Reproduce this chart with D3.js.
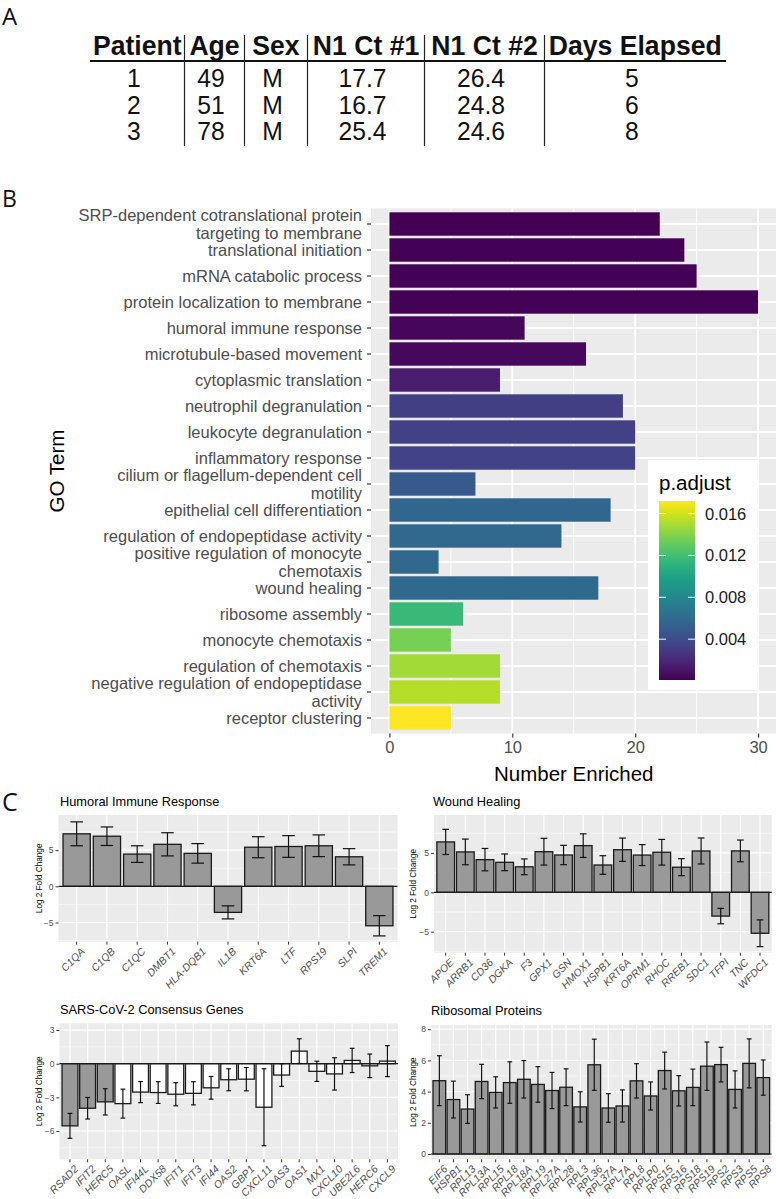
<!DOCTYPE html>
<html><head><meta charset="utf-8">
<script src="https://cdn.jsdelivr.net/npm/d3@7"></script>
<style>
body{margin:0;background:#fff;}
svg{display:block;font-family:"Liberation Sans",Arial,Helvetica,sans-serif;}
</style>
</head><body>
<svg id="chart" width="776" height="1199"></svg>
<script>
// ================= DATA =================
// Panel A – table
const tableHeaders = ["Patient","Age","Sex","N1 Ct #1","N1 Ct #2","Days Elapsed"];
const patientIds = ["1","2","3"];
const ages = ["49","51","78"];
const sexes = ["M","M","M"];
const n1Ct1 = ["17.7","16.7","25.4"];
const n1Ct2 = ["26.4","24.8","24.6"];
const daysElapsed = ["5","6","8"];

// Panel B – GO enrichment
const goTerms = [
  "SRP-dependent cotranslational protein\ntargeting to membrane",
  "translational initiation",
  "mRNA catabolic process",
  "protein localization to membrane",
  "humoral immune response",
  "microtubule-based movement",
  "cytoplasmic translation",
  "neutrophil degranulation",
  "leukocyte degranulation",
  "inflammatory response",
  "cilium or flagellum-dependent cell\nmotility",
  "epithelial cell differentiation",
  "regulation of endopeptidase activity",
  "positive regulation of monocyte\nchemotaxis",
  "wound healing",
  "ribosome assembly",
  "monocyte chemotaxis",
  "regulation of chemotaxis",
  "negative regulation of endopeptidase\nactivity",
  "receptor clustering"
];
const numberEnriched = [22,24,25,30,11,16,9,19,20,20,7,18,14,4,17,6,5,9,9,5];
const pAdjust = [0.0001,0.0002,0.0002,0.0002,0.0004,0.0005,0.0015,0.0033,0.0034,0.0035,
                 0.0049,0.0057,0.0058,0.0058,0.0059,0.0116,0.0136,0.0148,0.0153,0.0172];
const xTicksB = [0,10,20,30];
const xMinorB = [5,15,25];
const legendTicks = [0.004,0.008,0.012,0.016];

// Panel C – fold changes
const humoralGenes = ["C1QA","C1QB","C1QC","DMBT1","HLA-DQB1","IL1B","KRT6A","LTF","RPS19","SLPI","TREM1"];
const humoralLFC = [7.25,6.92,4.45,5.8,4.55,-3.6,5.4,5.5,5.6,4.08,-5.45];
const humoralSE  = [1.65,1.28,1.15,1.6,1.35,0.9,1.45,1.5,1.5,1.12,1.4];

const woundGenes = ["APOE","ARRB1","CD36","DGKA","F3","GPX1","GSN","HMOX1","HSPB1","KRT6A","OPRM1","RHOC","RREB1","SDC1","TFPI","TNC","WFDC1"];
const woundLFC = [6.4,5.13,4.15,3.81,3.24,5.16,4.74,5.93,3.47,5.41,4.73,5.09,3.19,5.25,-3.02,5.26,-5.2];
const woundSE  = [1.6,1.63,1.42,1.06,1.0,1.7,1.23,1.5,1.18,1.48,1.33,1.63,1.08,1.65,0.98,1.38,1.7];

const sarsGenes = ["RSAD2","IFIT2","HERC5","OASL","IFI44L","DDX58","IFIT1","IFIT3","IFI44","OAS2","GBP1","CXCL11","OAS3","OAS1","MX1","CXCL10","UBE2L6","HERC6","CXCL9"];
const sarsLFC = [-5.54,-3.97,-3.4,-3.56,-2.53,-2.57,-2.72,-2.64,-2.15,-1.43,-1.38,-3.88,-1.01,1.12,-0.68,-0.91,0.29,-0.19,0.23];
const sarsSE  = [1.11,0.96,1.17,1.29,0.94,0.97,1.03,1.03,1.01,0.98,1.04,3.43,1.01,1.1,0.9,1.44,1.08,1.05,1.38];
const sarsSignificant = [true,true,true,false,false,false,false,false,false,false,false,false,false,false,false,false,false,false,false];

const riboGenes = ["EIF6","HSPB1","RPL13","RPL13A","RPL15","RPL18","RPL18A","RPL19","RPL27A","RPL28","RPL3","RPL36","RPL37A","RPL7A","RPL8","RPLP0","RPS15","RPS16","RPS18","RPS19","RPS2","RPS3","RPS5","RPS8"];
const riboLFC = [4.7,3.49,2.88,4.65,3.95,4.58,4.79,4.46,4.07,4.28,3.02,5.72,2.95,3.08,4.69,3.72,5.35,4.05,4.27,5.63,5.73,4.14,5.81,4.9];
const riboSE  = [1.6,1.18,0.92,1.1,1.0,1.33,1.2,1.14,1.16,1.18,0.97,1.64,0.92,1.03,1.1,0.9,1.18,0.97,1.17,1.55,1.11,1.19,1.57,1.13];

// ================= DRAWING =================
const svg = d3.select("#chart");
const GRAY_BG = "#ebebeb", AXIS_TXT = "#4d4d4d", TICK = "#333333";

function panelLabel(t, x, y, size){
  svg.append("text").attr("x",x).attr("y",y).attr("font-size",size)
    .attr("font-family","'Open Sans','Noto Sans',sans-serif").attr("fill","#111").text(t);
}

// ---------- Panel A ----------
panelLabel("A", 2, 25, 24);
(function(){
  const colEdges = [90,184.5,244.5,307.5,424.5,544.5,726];
  const centers = colEdges.slice(0,-1).map((e,i)=>(e+colEdges[i+1])/2);
  const columns = [patientIds, ages, sexes, n1Ct1, n1Ct2, daysElapsed];
  const rowY = d3.scaleLinear().domain([0,1]).range([87,113.5]);
  const g = svg.append("g");
  tableHeaders.forEach((h,i)=>{
    g.append("text").attr("transform",`translate(${centers[i]},55) scale(0.95,1)`)
      .attr("text-anchor","middle").attr("font-size",28).attr("font-weight","bold")
      .attr("fill","#111").text(h);
  });
  columns.forEach((col,ci)=>{
    col.forEach((v,ri)=>{
      g.append("text").attr("transform",`translate(${centers[ci]-3.5},${rowY(ri)}) scale(0.95,1)`)
        .attr("text-anchor","middle").attr("font-size",26).attr("fill","#111").text(v);
    });
  });
  g.append("line").attr("x1",colEdges[0]).attr("x2",colEdges[6]).attr("y1",61).attr("y2",61)
    .attr("stroke","#111").attr("stroke-width",2);
  colEdges.slice(1,-1).forEach(x=>{
    g.append("line").attr("x1",x).attr("x2",x).attr("y1",35).attr("y2",146)
      .attr("stroke","#222").attr("stroke-width",1.2);
  });
})();

// ---------- Panel B ----------
panelLabel("B", 2, 207, 23);
(function(){
  const x0 = 371, x1 = 776.5, y0 = 208.4, y1 = 733.6;
  const x = d3.scaleLinear().domain([-1.5,31.5]).range([x0,x1]);
  const y = d3.scaleBand().domain(goTerms).range([y0,y1]).paddingInner(0.1).paddingOuter(0.15);
  const pExt = d3.extent(pAdjust);
  const color = d3.scaleSequential(d3.interpolateViridis).domain(pExt);
  const g = svg.append("g");
  g.append("rect").attr("x",x0).attr("y",y0).attr("width",x1-x0).attr("height",y1-y0).attr("fill",GRAY_BG);
  xMinorB.forEach(v=>g.append("line").attr("x1",x(v)).attr("x2",x(v)).attr("y1",y0).attr("y2",y1)
    .attr("stroke","#fff").attr("stroke-width",0.9));
  xTicksB.forEach(v=>g.append("line").attr("x1",x(v)).attr("x2",x(v)).attr("y1",y0).attr("y2",y1)
    .attr("stroke","#fff").attr("stroke-width",1.8));
  goTerms.forEach(t=>{
    const cy = y(t)+y.bandwidth()/2;
    g.append("line").attr("x1",x0).attr("x2",x1).attr("y1",cy).attr("y2",cy).attr("stroke","#fff").attr("stroke-width",1.8);
  });
  g.selectAll("rect.bar").data(goTerms).join("rect").attr("class","bar")
    .attr("x",x(0)).attr("y",d=>y(d)).attr("height",y.bandwidth())
    .attr("width",(d,i)=>x(numberEnriched[i])-x(0))
    .attr("fill",(d,i)=>color(pAdjust[i]));

  // y axis
  const ya = g.append("g").attr("transform",`translate(${x0},0)`)
    .call(d3.axisLeft(y).tickSize(4).tickPadding(5).tickFormat(""));
  ya.select(".domain").remove();
  ya.selectAll(".tick line").attr("stroke",TICK).attr("stroke-width",1.2);
  goTerms.forEach(t=>{
    const lines = t.split("\n");
    const cy = y(t)+y.bandwidth()/2;
    const lh = 17.5;
    lines.forEach((ln,k)=>{
      const off = (k-(lines.length-1)/2)*lh;
      g.append("text").attr("x",x0-9).attr("y",cy+off).attr("dy","0.35em")
        .attr("text-anchor","end").attr("font-size",16.5).attr("fill",AXIS_TXT).text(ln);
    });
  });
  // x axis
  const xa = g.append("g").attr("transform",`translate(0,${y1})`)
    .call(d3.axisBottom(x).tickValues(xTicksB).tickSize(4).tickPadding(4));
  xa.select(".domain").remove();
  xa.selectAll(".tick line").attr("stroke",TICK).attr("stroke-width",1.2);
  xa.selectAll(".tick text").attr("font-size",16.5).attr("fill",AXIS_TXT).attr("font-family","inherit");
  g.append("text").attr("x",(x0+x1)/2).attr("y",781).attr("text-anchor","middle")
    .attr("font-size",20.5).attr("fill","#000").text("Number Enriched");
  g.append("text").attr("transform",`translate(64,${(y0+y1)/2}) rotate(-90)`).attr("text-anchor","middle")
    .attr("font-size",20.5).attr("fill","#000").text("GO Term");

  // legend
  const lg = svg.append("g");
  lg.append("rect").attr("x",648).attr("y",460).attr("width",109).attr("height",230).attr("fill","#fff");
  lg.append("text").attr("x",659).attr("y",490).attr("font-size",20.5).attr("fill","#000").text("p.adjust");
  const cbTop = 501, cbBot = 680, cbL = 659, cbW = 36;
  const grad = svg.append("defs").append("linearGradient").attr("id","vir")
    .attr("x1",0).attr("y1",1).attr("x2",0).attr("y2",0);
  d3.range(0,1.0001,0.05).forEach(t=>grad.append("stop").attr("offset",t).attr("stop-color",d3.interpolateViridis(t)));
  lg.append("rect").attr("x",cbL).attr("y",cbTop).attr("width",cbW).attr("height",cbBot-cbTop).attr("fill","url(#vir)");
  const ly = d3.scaleLinear().domain(pExt).range([cbBot,cbTop]);
  legendTicks.forEach(v=>{
    const yy = ly(v);
    lg.append("line").attr("x1",cbL).attr("x2",cbL+7).attr("y1",yy).attr("y2",yy).attr("stroke","#fff").attr("stroke-width",1);
    lg.append("line").attr("x1",cbL+cbW-7).attr("x2",cbL+cbW).attr("y1",yy).attr("y2",yy).attr("stroke","#fff").attr("stroke-width",1);
    lg.append("text").attr("x",705).attr("y",yy).attr("dy","0.36em").attr("font-size",16.5).attr("fill","#1a1a1a")
      .text(d3.format(".3f")(v));
  });
})();

// ---------- Panel C ----------
panelLabel("C", 2, 811, 25);

function subplot(cfg){
  const {title, genes, lfc, se, fills, box, domain, ticks, minor, titleX, titleY, ylabX, capFrac} = cfg;
  const g = svg.append("g");
  const x = d3.scaleBand().domain(genes).range([box.x0,box.x1]).paddingInner(0.1).paddingOuter(0.15);
  const y = d3.scaleLinear().domain(domain).range([box.y1,box.y0]);
  g.append("rect").attr("x",box.x0).attr("y",box.y0).attr("width",box.x1-box.x0).attr("height",box.y1-box.y0).attr("fill",GRAY_BG);
  minor.forEach(v=>g.append("line").attr("x1",box.x0).attr("x2",box.x1).attr("y1",y(v)).attr("y2",y(v))
    .attr("stroke","#fff").attr("stroke-width",0.6));
  ticks.forEach(v=>g.append("line").attr("x1",box.x0).attr("x2",box.x1).attr("y1",y(v)).attr("y2",y(v))
    .attr("stroke","#fff").attr("stroke-width",1.2));
  genes.forEach(d=>{
    const cx = x(d)+x.bandwidth()/2;
    g.append("line").attr("x1",cx).attr("x2",cx).attr("y1",box.y0).attr("y2",box.y1).attr("stroke","#fff").attr("stroke-width",1.2);
  });
  g.selectAll("rect.bar").data(genes).join("rect").attr("class","bar")
    .attr("x",d=>x(d)).attr("width",x.bandwidth())
    .attr("y",(d,i)=>Math.min(y(lfc[i]),y(0)))
    .attr("height",(d,i)=>Math.abs(y(lfc[i])-y(0)))
    .attr("fill",(d,i)=>fills[i]).attr("stroke","#1a1a1a").attr("stroke-width",1.3);
  g.append("line").attr("x1",box.x0).attr("x2",box.x1).attr("y1",y(0)).attr("y2",y(0)).attr("stroke","#1a1a1a").attr("stroke-width",1.2);
  const cap = x.bandwidth()*capFrac/2;
  genes.forEach((d,i)=>{
    const cx = x(d)+x.bandwidth()/2;
    const lo = y(lfc[i]-se[i]), hi = y(lfc[i]+se[i]);
    g.append("line").attr("x1",cx).attr("x2",cx).attr("y1",lo).attr("y2",hi).attr("stroke","#111").attr("stroke-width",1.2);
    [lo,hi].forEach(yy=>g.append("line").attr("x1",cx-cap).attr("x2",cx+cap).attr("y1",yy).attr("y2",yy).attr("stroke","#111").attr("stroke-width",1.2));
  });
  // y axis
  const ya = g.append("g").attr("transform",`translate(${box.x0},0)`)
    .call(d3.axisLeft(y).tickValues(ticks).tickSize(3).tickPadding(2));
  ya.select(".domain").remove();
  ya.selectAll(".tick line").attr("stroke",TICK);
  ya.selectAll(".tick text").attr("font-size",8.5).attr("fill",AXIS_TXT).attr("font-family","inherit");
  // x axis
  const xa = g.append("g").attr("transform",`translate(0,${box.y1})`)
    .call(d3.axisBottom(x).tickSize(3).tickFormat(""));
  xa.select(".domain").remove();
  xa.selectAll(".tick line").attr("stroke",TICK);
  genes.forEach(d=>{
    const cx = x(d)+x.bandwidth()/2;
    g.append("text").attr("transform",`translate(${cx+3.5},${box.y1+5}) rotate(-45)`)
      .attr("text-anchor","end").attr("dy","0.72em").attr("font-size",10.5).attr("font-style","italic")
      .attr("fill",AXIS_TXT).text(d);
  });
  g.append("text").attr("x",titleX).attr("y",titleY).attr("font-size",12.8).attr("fill","#000").text(title);
  g.append("text").attr("transform",`translate(${ylabX},${(box.y0+box.y1)/2}) rotate(-90)`)
    .attr("text-anchor","middle").attr("font-size",8.2).attr("fill","#000").text("Log 2 Fold Change");
}

subplot({title:"Humoral Immune Response", genes:humoralGenes, lfc:humoralLFC, se:humoralSE,
  fills:humoralGenes.map(()=>"#999999"),
  box:{x0:58.5,x1:397.5,y0:815,y1:941.7}, domain:[-7.65,9.85], ticks:[-5,0,5], minor:[-7.5,-2.5,2.5,7.5],
  titleX:60, titleY:806, ylabX:42, capFrac:0.46});
subplot({title:"Wound Healing", genes:woundGenes, lfc:woundLFC, se:woundSE,
  fills:woundGenes.map(()=>"#999999"),
  box:{x0:433.9,x1:771.8,y0:815,y1:952.7}, domain:[-7.67,9.82], ticks:[-5,0,5], minor:[-7.5,-2.5,2.5,7.5],
  titleX:433, titleY:806, ylabX:416, capFrac:0.38});
subplot({title:"SARS-CoV-2 Consensus Genes", genes:sarsGenes, lfc:sarsLFC, se:sarsSE,
  fills:sarsSignificant.map(s=>s?"#999999":"#ffffff"),
  box:{x0:59.4,x1:398,y0:1023.3,y1:1159.3}, domain:[-8.52,3.6], ticks:[-6,-3,0,3], minor:[-7.5,-4.5,-1.5,1.5],
  titleX:60, titleY:1014, ylabX:42, capFrac:0.3});
subplot({title:"Ribosomal Proteins", genes:riboGenes, lfc:riboLFC, se:riboSE,
  fills:riboGenes.map(()=>"#999999"),
  box:{x0:430.9,x1:771.7,y0:1025,y1:1159.3}, domain:[-0.34,8.27], ticks:[0,2,4,6,8], minor:[1,3,5,7],
  titleX:431, titleY:1015, ylabX:416, capFrac:0.38});
</script>
</body></html>
